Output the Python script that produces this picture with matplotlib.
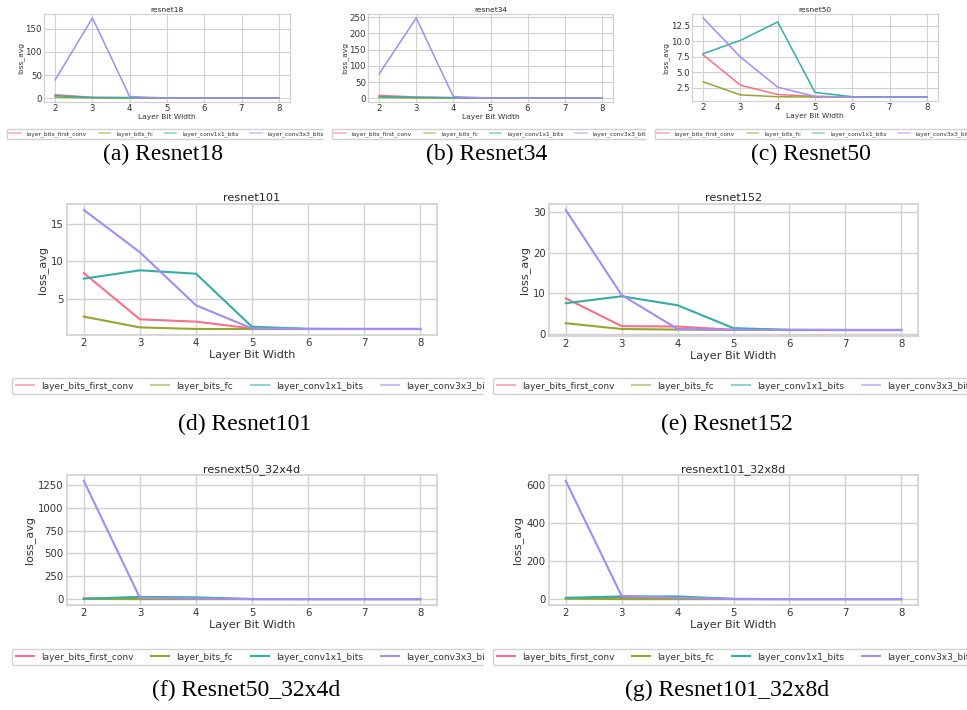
import matplotlib
matplotlib.use("Agg")
import matplotlib.pyplot as plt
from matplotlib.transforms import Bbox, TransformedBbox
import seaborn as sns

W, H = 967, 710

# ---------------- data ----------------
bits = [2, 3, 4, 5, 6, 7, 8]
series_names = ["layer_bits_first_conv", "layer_bits_fc",
                "layer_conv1x1_bits", "layer_conv3x3_bits"]

r18_first_conv = [8.0, 2.5, 1.5, 1.0, 1.0, 1.0, 1.0]
r18_fc = [3.0, 1.3, 1.0, 1.0, 1.0, 1.0, 1.0]
r18_conv1x1 = [6.0, 2.0, 2.0, 1.0, 1.0, 1.0, 1.0]
r18_conv3x3 = [40.0, 173.0, 4.0, 1.0, 1.0, 1.0, 1.0]

r34_first_conv = [9.0, 4.0, 2.0, 1.0, 1.0, 1.0, 1.0]
r34_fc = [3.0, 1.3, 1.0, 1.0, 1.0, 1.0, 1.0]
r34_conv1x1 = [5.0, 3.0, 2.0, 1.0, 1.0, 1.0, 1.0]
r34_conv3x3 = [75.0, 247.0, 5.0, 1.0, 1.0, 1.0, 1.0]

r50_first_conv = [7.8, 2.88, 1.36, 1.05, 0.95, 0.95, 0.95]
r50_fc = [3.42, 1.3, 1.0, 0.95, 0.95, 0.95, 0.95]
r50_conv1x1 = [7.99, 10.16, 13.15, 1.7, 1.0, 0.95, 0.95]
r50_conv3x3 = [13.8, 7.45, 2.55, 1.05, 0.95, 0.95, 0.95]

r101_first_conv = [8.41, 2.22, 1.91, 1.0, 0.93, 0.93, 0.93]
r101_fc = [2.58, 1.14, 0.93, 0.92, 0.92, 0.92, 0.92]
r101_conv1x1 = [7.65, 8.77, 8.32, 1.23, 0.95, 0.93, 0.93]
r101_conv3x3 = [16.84, 11.19, 4.1, 1.0, 0.93, 0.93, 0.93]

r152_first_conv = [8.8, 2.0, 1.9, 1.1, 1.05, 1.05, 1.05]
r152_fc = [2.7, 1.3, 1.15, 1.05, 1.05, 1.05, 1.05]
r152_conv1x1 = [7.6, 9.3, 7.1, 1.5, 1.1, 1.05, 1.05]
r152_conv3x3 = [30.4, 9.6, 1.3, 1.1, 1.05, 1.05, 1.05]

rx50_first_conv = [8.0, 12.0, 6.0, 1.5, 1.0, 1.0, 1.0]
rx50_fc = [3.0, 1.2, 1.0, 1.0, 1.0, 1.0, 1.0]
rx50_conv1x1 = [5.0, 25.0, 20.0, 2.0, 1.0, 1.0, 1.0]
rx50_conv3x3 = [1293.0, 15.0, 8.0, 1.0, 1.0, 1.0, 1.0]

rx101_first_conv = [5.0, 10.0, 8.0, 1.5, 1.0, 1.0, 1.0]
rx101_fc = [3.0, 1.2, 1.0, 1.0, 1.0, 1.0, 1.0]
rx101_conv1x1 = [8.0, 15.0, 15.0, 2.0, 1.0, 1.0, 1.0]
rx101_conv3x3 = [624.0, 17.0, 8.0, 1.0, 1.0, 1.0, 1.0]

titles = ["resnet18", "resnet34", "resnet50", "resnet101", "resnet152",
          "resnext50_32x4d", "resnext101_32x8d"]
captions = ["(a) Resnet18", "(b) Resnet34", "(c) Resnet50", "(d) Resnet101",
            "(e) Resnet152", "(f) Resnet50_32x4d", "(g) Resnet101_32x8d"]
panel_series = [
    [r18_first_conv, r18_fc, r18_conv1x1, r18_conv3x3],
    [r34_first_conv, r34_fc, r34_conv1x1, r34_conv3x3],
    [r50_first_conv, r50_fc, r50_conv1x1, r50_conv3x3],
    [r101_first_conv, r101_fc, r101_conv1x1, r101_conv3x3],
    [r152_first_conv, r152_fc, r152_conv1x1, r152_conv3x3],
    [rx50_first_conv, rx50_fc, rx50_conv1x1, rx50_conv3x3],
    [rx101_first_conv, rx101_fc, rx101_conv1x1, rx101_conv3x3],
]
panel_yticks = [
    [0, 50, 100, 150],
    [0, 50, 100, 150, 200, 250],
    [2.5, 5.0, 7.5, 10.0, 12.5],
    [5, 10, 15],
    [0, 10, 20, 30],
    [0, 250, 500, 750, 1000, 1250],
    [0, 200, 400, 600],
]

# ---------------- layout (pixels) ----------------
# axes box: left, top, right, bottom
axes_px = [
    (44, 14, 290, 102), (368, 14, 613, 102), (692, 14, 938, 101),
    (67, 204, 437, 335), (549, 204, 918, 336),
    (67, 475, 437, 605), (549, 475, 918, 605),
]
legend_px = [(7, 129), (332, 129), (655, 129),
             (12, 378), (493, 378), (12, 649), (493, 649)]
clip_px = [(0, 323), (323, 646), (646, 967),
           (0, 484), (484, 967), (0, 484), (484, 967)]
caption_px = [(163, 154), (487, 154), (811, 154),
              (245, 424), (727, 424), (246, 690), (727, 690)]
small = [True, True, True, False, False, False, False]
faded_legend = [True, True, True, True, True, False, False]

colors = sns.color_palette("husl", 4)

fig = plt.figure(figsize=(W / 100, H / 100), dpi=100)
fig.patch.set_facecolor("white")

for i in range(7):
    l, t, r, b = axes_px[i]
    ax = fig.add_axes([l / W, 1 - b / H, (r - l) / W, (b - t) / H])
    s = small[i]
    lw = 1.1 if s else 1.5
    fs_tick = 6.2 if s else 7.3
    fs_lab = 5.4 if s else 8.1
    fs_leg = 4.2 if s else 6.45
    for name, vals, c in zip(series_names, panel_series[i], colors):
        ax.plot(bits, vals, color=c, lw=lw, label=name)
    ax.set_xticks(bits)
    ax.set_yticks(panel_yticks[i])
    ax.grid(True, color="0.82", lw=0.8 if s else 1.0)
    ax.set_axisbelow(True)
    for sp in ax.spines.values():
        sp.set_color("0.82")
        sp.set_linewidth(0.9 if s else 1.25)
    ax.tick_params(length=0, labelsize=fs_tick, colors="0.2",
                   pad=1.5 if s else 2.5)
    ax.set_title(titles[i], fontsize=fs_lab, pad=1.5 if s else 2.0, color="0.15")
    ax.set_xlabel("Layer Bit Width", fontsize=fs_lab, labelpad=0.5 if s else 1.0,
                  color="0.2")
    ax.set_ylabel("loss_avg", fontsize=fs_lab, labelpad=1.0 if s else 2.0,
                  color="0.2")

    lx, ly = legend_px[i]
    leg = ax.legend(loc="upper left", bbox_to_anchor=(lx / W, 1 - ly / H),
                    bbox_transform=fig.transFigure, ncol=4, fontsize=fs_leg,
                    frameon=True, fancybox=True, edgecolor="0.82",
                    borderaxespad=0, framealpha=1.0,
                    handletextpad=1.0 if s else 0.8)
    for ln in leg.get_lines():
        ln.set_linewidth(1.2 if s else 1.5)
        if faded_legend[i]:
            ln.set_alpha(0.55)
    for txt in leg.get_texts():
        txt.set_color("0.2")
    cx0, cx1 = clip_px[i]
    cb = TransformedBbox(Bbox.from_extents(cx0 / W, 0, cx1 / W, 1), fig.transFigure)
    for a in leg.findobj():
        a.set_clip_box(cb)
        a.set_clip_on(True)

    cx, cy = caption_px[i]
    fig.text(cx / W, 1 - cy / H, captions[i], ha="center", va="center",
             fontsize=17, family="Liberation Serif", color="black")

fig.savefig("out.png", dpi=100, facecolor="white")
